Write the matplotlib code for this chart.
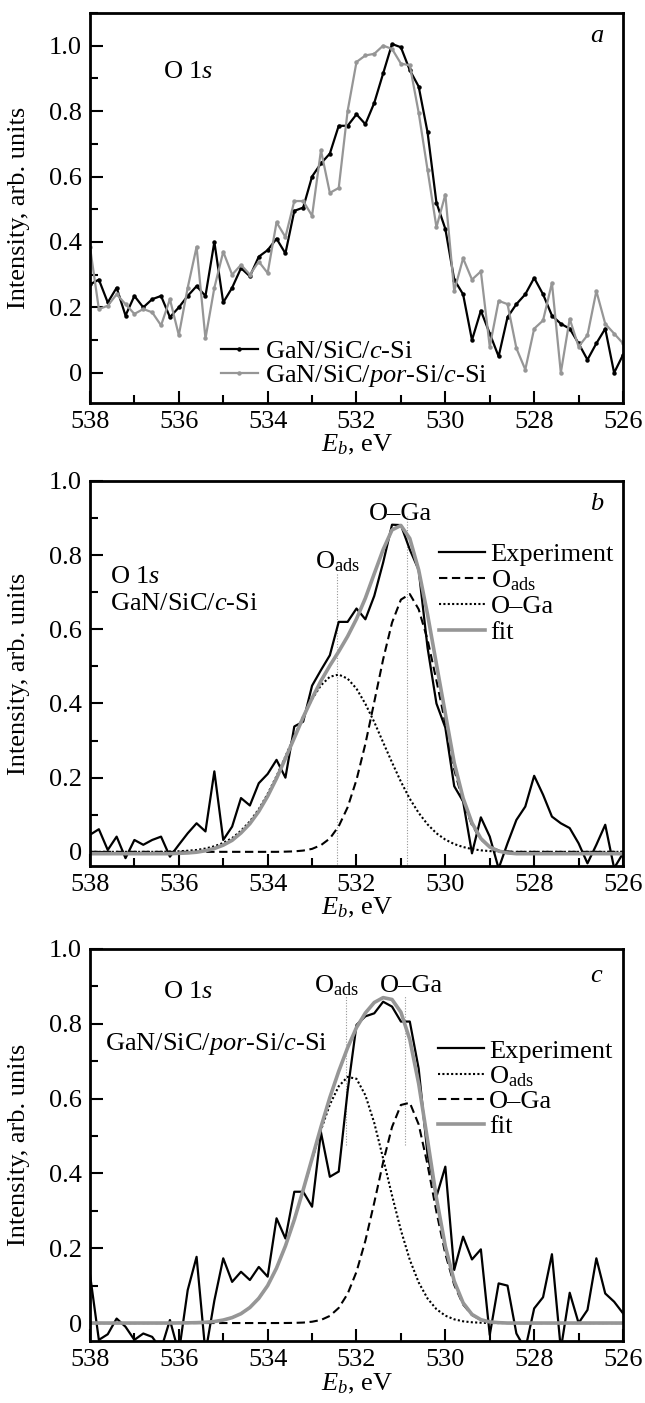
import numpy as np
import matplotlib
matplotlib.use('Agg')
import matplotlib.pyplot as plt
from matplotlib.ticker import MultipleLocator, FuncFormatter

plt.rcParams['font.family'] = ['Liberation Serif', 'DejaVu Serif']
plt.rcParams['mathtext.fontset'] = 'custom'
plt.rcParams['mathtext.rm'] = 'Liberation Serif'
plt.rcParams['mathtext.it'] = 'Liberation Serif:italic'
plt.rcParams['font.size'] = 19

# binding energy grid, eV (538 -> 526, step 0.2)
energy = np.linspace(538.0, 526.0, 61)

# panel a: raw O 1s spectra
a_c_si = [0.27, 0.285, 0.215, 0.26, 0.175,
          0.235, 0.20, 0.225, 0.235, 0.17,
          0.20, 0.235, 0.265, 0.235, 0.40,
          0.215, 0.26, 0.32, 0.295, 0.355,
          0.375, 0.41, 0.365, 0.495, 0.505,
          0.60, 0.64, 0.67, 0.755, 0.755,
          0.79, 0.76, 0.825, 0.915, 1.005,
          0.995, 0.925, 0.875, 0.735, 0.52,
          0.44, 0.285, 0.24, 0.10, 0.19,
          0.12, 0.05, 0.17, 0.21, 0.24,
          0.29, 0.24, 0.175, 0.15, 0.135,
          0.09, 0.04, 0.09, 0.135, 0.0,
          0.055]
a_por_si = [0.385, 0.195, 0.205, 0.24, 0.21,
            0.18, 0.195, 0.185, 0.145, 0.225,
            0.115, 0.26, 0.385, 0.105, 0.26,
            0.37, 0.30, 0.33, 0.30, 0.34,
            0.305, 0.46, 0.415, 0.525, 0.525,
            0.48, 0.68, 0.55, 0.565, 0.80,
            0.95, 0.97, 0.975, 1.0, 0.99,
            0.945, 0.94, 0.795, 0.62, 0.445,
            0.545, 0.25, 0.35, 0.285, 0.31,
            0.08, 0.22, 0.21, 0.075, 0.01,
            0.135, 0.16, 0.275, 0.0, 0.165,
            0.08, 0.115, 0.25, 0.15, 0.12,
            0.09]

# panel b: GaN/SiC/c-Si with decomposition
b_exp = [0.046, 0.061, 0.005, 0.041, -0.017,
         0.032, 0.019, 0.032, 0.041, -0.013,
         0.019, 0.05, 0.077, 0.055, 0.217,
         0.032, 0.068, 0.145, 0.125, 0.185,
         0.21, 0.248, 0.2, 0.338, 0.351,
         0.448, 0.49, 0.53, 0.62, 0.62,
         0.656, 0.627, 0.69, 0.78, 0.882,
         0.881, 0.815, 0.76, 0.55, 0.40,
         0.335, 0.177, 0.136, -0.004, 0.093,
         0.041, -0.045, 0.023, 0.086, 0.122,
         0.205, 0.154, 0.095, 0.077, 0.064,
         0.023, -0.031, 0.019, 0.073, -0.044,
         -0.004]
b_peak1 = [0, 0, 0, 0, 0,
           0, 0, 0, 0, 0.001,
           0.0015, 0.003, 0.005, 0.009, 0.015,
           0.024, 0.037, 0.057, 0.082, 0.115,
           0.156, 0.204, 0.257, 0.312, 0.365,
           0.412, 0.449, 0.472, 0.478, 0.467,
           0.44, 0.399, 0.35, 0.295, 0.241,
           0.189, 0.143, 0.105, 0.074, 0.050,
           0.033, 0.021, 0.013, 0.0075, 0.004,
           0.002, 0.001, 0, 0, 0,
           0, 0, 0, 0, 0,
           0, 0, 0, 0, 0,
           0]
b_peak2 = [0, 0, 0, 0, 0,
           0, 0, 0, 0, 0,
           0, 0, 0, 0, 0,
           0, 0, 0, 0, 0,
           0, 0, 0.0005, 0.0013, 0.0034,
           0.008, 0.018, 0.036, 0.069, 0.12,
           0.194, 0.291, 0.404, 0.519, 0.618,
           0.68, 0.695, 0.654, 0.572, 0.462,
           0.346, 0.222, 0.135, 0.072, 0.034,
           0.012, 0.004, 0.001, 0, 0,
           0, 0, 0, 0, 0,
           0, 0, 0, 0, 0,
           0]
b_fit = [-0.005, -0.005, -0.005, -0.005, -0.005,
         -0.005, -0.005, -0.005, -0.005, -0.005,
         -0.004, -0.003, -0.001, 0.003, 0.009,
         0.018, 0.031, 0.051, 0.076, 0.109,
         0.150, 0.198, 0.252, 0.307, 0.363,
         0.414, 0.461, 0.502, 0.540, 0.581,
         0.628, 0.684, 0.750, 0.815, 0.868,
         0.880, 0.845, 0.760, 0.640, 0.506,
         0.373, 0.240, 0.145, 0.078, 0.036,
         0.013, 0.002, -0.003, -0.005, -0.005,
         -0.005, -0.005, -0.005, -0.005, -0.005,
         -0.005, -0.005, -0.005, -0.005, -0.005,
         -0.005]
b_marks = [532.43, 530.87]
b_mark_top = [0.75, 0.905]

# panel c: GaN/SiC/por-Si/c-Si with decomposition
c_exp = [0.13, -0.045, -0.03, 0.012, -0.01,
         -0.045, -0.028, -0.037, -0.07, 0.008,
         -0.08, 0.088, 0.177, -0.08, 0.06,
         0.173, 0.11, 0.137, 0.115, 0.15,
         0.124, 0.28, 0.226, 0.351, 0.351,
         0.311, 0.51, 0.391, 0.405, 0.62,
         0.797, 0.82, 0.828, 0.859, 0.846,
         0.806, 0.806, 0.68, 0.45, 0.338,
         0.418, 0.142, 0.231, 0.17, 0.197,
         -0.032, 0.106, 0.10, -0.028, -0.07,
         0.039, 0.069, 0.184, -0.07, 0.081,
         0.0, 0.035, 0.173, 0.079, 0.057,
         0.026]
c_peak1 = [0, 0, 0, 0, 0,
           0, 0, 0, 0, 0,
           0.0002, 0.0005, 0.001, 0.002, 0.004,
           0.008, 0.0145, 0.025, 0.0415, 0.066,
           0.10, 0.147, 0.206, 0.276, 0.355,
           0.437, 0.516, 0.584, 0.633, 0.658,
           0.653, 0.609, 0.535, 0.44, 0.341,
           0.248, 0.169, 0.1085, 0.0655, 0.037,
           0.0197, 0.0099, 0.0046, 0.002, 0.0008,
           0, 0, 0, 0, 0,
           0, 0, 0, 0, 0,
           0, 0, 0, 0, 0,
           0]
c_peak2 = [0, 0, 0, 0, 0,
           0, 0, 0, 0, 0,
           0, 0, 0, 0, 0,
           0, 0, 0, 0, 0,
           0, 0, 0.0001, 0.0004, 0.0012,
           0.0035, 0.0082, 0.019, 0.0404, 0.078,
           0.137, 0.22, 0.322, 0.43, 0.524,
           0.583, 0.589, 0.531, 0.423, 0.297,
           0.185, 0.102, 0.0496, 0.0214, 0.0081,
           0.0027, 0.0008, 0, 0, 0,
           0, 0, 0, 0, 0,
           0, 0, 0, 0, 0,
           0]
c_fit = [0, 0, 0, 0, 0,
         0, 0, 0, 0, 0,
         0.0002, 0.0005, 0.001, 0.002, 0.004,
         0.008, 0.0145, 0.025, 0.0415, 0.066,
         0.10, 0.147, 0.206, 0.276, 0.356,
         0.44, 0.524, 0.603, 0.673, 0.736,
         0.79, 0.829, 0.857, 0.87, 0.865,
         0.831, 0.758, 0.64, 0.489, 0.334,
         0.205, 0.112, 0.054, 0.023, 0.009,
         0.003, 0.001, 0, 0, 0,
         0, 0, 0, 0, 0,
         0, 0, 0, 0, 0,
         0]
c_marks = [532.24, 530.9]
c_mark_lo = 0.476
c_mark_hi = 0.877

GRAY = '#969696'
DASH = (0, (4, 2.2))
DOT = (0, (1, 1.1))
ads = r'O$_\mathrm{ads}$'
oga = 'O\u2013Ga'

fig = plt.figure(figsize=(6.45, 14.03), dpi=100)
ax_a = fig.add_axes([0.1395, 0.7128, 0.8264, 0.2780])
ax_b = fig.add_axes([0.1395, 0.3828, 0.8264, 0.2744])
ax_c = fig.add_axes([0.1395, 0.0442, 0.8264, 0.2794])


def style(ax, ylo, yhi):
    ax.set_xlim(538, 526)
    ax.set_ylim(ylo, yhi)
    ax.xaxis.set_major_locator(MultipleLocator(2))
    ax.xaxis.set_minor_locator(MultipleLocator(1))
    ax.yaxis.set_major_locator(MultipleLocator(0.2))
    ax.yaxis.set_minor_locator(MultipleLocator(0.1))
    ax.yaxis.set_major_formatter(FuncFormatter(lambda v, p: '0' if abs(v) < 1e-9 else f'{v:.1f}'))
    ax.tick_params(which='both', direction='in', top=False, right=False, width=1.5)
    ax.tick_params(which='major', length=9, pad=6)
    ax.tick_params(which='minor', length=6)
    for s in ax.spines.values():
        s.set_linewidth(2)
    ax.set_xlabel('$E_b$, eV', labelpad=0)
    ax.set_ylabel('Intensity, arb. units')
    ax.yaxis.set_label_coords(-0.112, 0.5)


# a
ax_a.plot(energy, a_c_si, color='black', lw=1.6, marker='o', ms=2.2, label='GaN/SiC/$c$-Si')
ax_a.plot(energy, a_por_si, color=GRAY, lw=1.6, marker='o', ms=2.2, label='GaN/SiC/$por$-Si/$c$-Si')
style(ax_a, -0.092, 1.10)
ax_a.text(0.137, 0.833, 'O 1$s$', transform=ax_a.transAxes)
ax_a.text(0.95, 0.925, 'a', transform=ax_a.transAxes, style='italic', ha='center')
ax_a.legend(loc='lower left', bbox_to_anchor=(0.245, 0.035), frameon=False, handlelength=1.4,
            handletextpad=0.3, labelspacing=0.0, borderpad=0, borderaxespad=0)

# b
ax_b.vlines(b_marks, -0.1, b_mark_top, colors=GRAY, linestyles=(0, (1, 1.5)), lw=0.8)
ax_b.plot(energy, b_exp, color='black', lw=1.6, label='Experiment')
ax_b.plot(energy, b_peak2, color='black', lw=1.5, ls=DASH, label=ads)
ax_b.plot(energy, b_peak1, color='black', lw=1.5, ls=DOT, label=oga)
ax_b.plot(energy, b_fit, color=GRAY, lw=2.6, label='fit')
style(ax_b, -0.038, 1.0)
ax_b.text(b_marks[0], 0.765, ads, ha='center')
ax_b.text(b_marks[1] + 0.13, 0.895, oga, ha='center')
ax_b.text(0.037, 0.735, 'O 1$s$', transform=ax_b.transAxes)
ax_b.text(0.037, 0.665, 'GaN/SiC/$c$-Si', transform=ax_b.transAxes)
ax_b.text(0.95, 0.925, 'b', transform=ax_b.transAxes, style='italic', ha='center')
ax_b.legend(loc='upper left', bbox_to_anchor=(0.655, 0.84), frameon=False, handlelength=1.75,
            handletextpad=0.2, labelspacing=0.08, borderpad=0, borderaxespad=0)

# c
ax_c.vlines(c_marks, c_mark_lo, c_mark_hi, colors=GRAY, linestyles=(0, (1, 1.5)), lw=0.8)
ax_c.plot(energy, c_exp, color='black', lw=1.6, label='Experiment')
ax_c.plot(energy, c_peak1, color='black', lw=1.5, ls=DOT, label=ads)
ax_c.plot(energy, c_peak2, color='black', lw=1.5, ls=DASH, label=oga)
ax_c.plot(energy, c_fit, color=GRAY, lw=2.6, label='fit')
style(ax_c, -0.048, 1.0)
ax_c.text(532.45, 0.885, ads, ha='center')
ax_c.text(530.76, 0.885, oga, ha='center')
ax_c.text(0.137, 0.875, 'O 1$s$', transform=ax_c.transAxes)
ax_c.text(0.028, 0.742, 'GaN/SiC/$por$-Si/$c$-Si', transform=ax_c.transAxes)
ax_c.text(0.95, 0.915, 'c', transform=ax_c.transAxes, style='italic', ha='center')
ax_c.legend(loc='upper left', bbox_to_anchor=(0.652, 0.77), frameon=False, handlelength=1.75,
            handletextpad=0.2, labelspacing=0.05, borderpad=0, borderaxespad=0)

fig.savefig('out.png', dpi=100)
